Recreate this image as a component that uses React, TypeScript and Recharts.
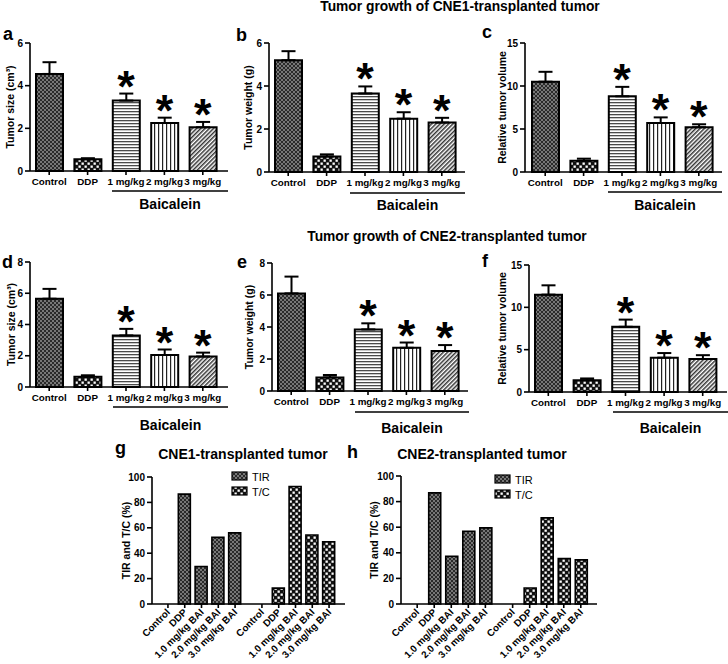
import React from 'react';
import { Bar, BarChart, Cell, ComposedChart, ErrorBar, Legend, Scatter, XAxis, YAxis } from 'recharts';

// groups for panels a-f
const groups = ['Control', 'DDP', '1 mg/kg', '2 mg/kg', '3 mg/kg'];
const starred = [false, false, true, true, true];

const sizeCne1 = [4.55, 0.55, 3.3, 2.25, 2.05];
const sizeCne1Err = [0.55, 0.05, 0.33, 0.25, 0.25];
const weightCne1 = [5.2, 0.72, 3.65, 2.48, 2.3];
const weightCne1Err = [0.42, 0.1, 0.33, 0.3, 0.22];
const volumeCne1 = [10.5, 1.3, 8.8, 5.7, 5.2];
const volumeCne1Err = [1.15, 0.25, 1.1, 0.65, 0.35];

const sizeCne2 = [5.65, 0.65, 3.3, 2.05, 1.95];
const sizeCne2Err = [0.63, 0.1, 0.42, 0.35, 0.25];
const weightCne2 = [6.1, 0.85, 3.85, 2.7, 2.5];
const weightCne2Err = [1.05, 0.15, 0.38, 0.33, 0.37];
const volumeCne2 = [11.5, 1.4, 7.7, 4.05, 3.9];
const volumeCne2Err = [1.1, 0.2, 0.85, 0.55, 0.45];

// panels g, h
const ratioLabels = ['Control', 'DDP', '1.0 mg/kg BAI', '2.0 mg/kg BAI', '3.0 mg/kg BAI'];
const tirCne1 = [0, 86.5, 29.5, 52.5, 56];
const tcCne1 = [0, 12.5, 92.5, 54.3, 49];
const tirCne2 = [0, 86.8, 37.3, 56.8, 59.5];
const tcCne2 = [0, 12.5, 67.3, 35.5, 34.5];
const seriesOrder = ['TIR', 'T/C'];

const ticks6 = [0, 2, 4, 6];
const ticks8 = [0, 2, 4, 6, 8];
const ticks15 = [0, 5, 10, 15];
const ticks100 = [0, 20, 40, 60, 80, 100];

const FONT = '"Liberation Sans", Arial, sans-serif';
const GROUP_FILLS = ['url(#pCtrl)', 'url(#pDots)', 'url(#pHoriz)', 'url(#pVert)', 'url(#pDiag)'];
const GROUP_GAP = 1.6;

const axisLine = { stroke: '#000', strokeWidth: 1.6 };
const tickText = { fill: '#000', fontSize: 10, fontWeight: 'bold' as const };

const Star = (p: any) => {
  if (!p.payload || !p.payload.star) return <g />;
  return (
    <text x={p.cx} y={p.cy + 8} textAnchor="middle" fontSize={45} fontWeight="bold" fill="#000" fontFamily={FONT}>
      *
    </text>
  );
};

type GroupProps = {
  left: number; top: number; width: number; height: number;
  values: number[]; errs: number[]; yTicks: number[]; yLabel: string;
  padLeft: number; padRight: number; labelOffset: number;
};

const GroupPanel = ({ left, top, width, height, values, errs, yTicks, yLabel, padLeft, padRight, labelOffset }: GroupProps) => {
  const data = groups.map((name, i) => ({
    name,
    value: values[i],
    err: [0, errs[i]],
    top: values[i] + errs[i],
    star: starred[i],
  }));
  return (
    <div style={{ position: 'absolute', left, top }}>
      <ComposedChart width={width} height={height} data={data} margin={{ top: 10, right: 2, left: 0, bottom: 0 }}>
        <XAxis
          dataKey="name"
          height={20}
          interval={0}
          padding={{ left: padLeft, right: padRight }}
          axisLine={axisLine}
          tickLine={axisLine}
          tickSize={4}
          tickMargin={3}
          tick={{ ...tickText, fontSize: 9.8 }}
        />
        <YAxis
          width={36}
          domain={[0, yTicks[yTicks.length - 1]]}
          ticks={yTicks}
          axisLine={axisLine}
          tickLine={axisLine}
          tickSize={5}
          tickMargin={2}
          tick={tickText}
          label={{
            value: yLabel,
            angle: -90,
            position: 'insideLeft',
            offset: labelOffset,
            style: { textAnchor: 'middle', fontWeight: 'bold', fontSize: 10.5, fill: '#000' },
          }}
        />
        <Bar dataKey="value" barSize={27} stroke="#000" strokeWidth={2} isAnimationActive={false}>
          {data.map((d, i) => (
            <Cell key={d.name} fill={GROUP_FILLS[i]} />
          ))}
          <ErrorBar dataKey="err" width={7} stroke="#000" strokeWidth={2} direction="y" />
        </Bar>
        <Scatter dataKey="top" shape={Star} isAnimationActive={false} />
      </ComposedChart>
    </div>
  );
};

const RatioLegend = (props: any) => {
  const payload = [...(props.payload || [])].sort(
    (a: any, b: any) => seriesOrder.indexOf(a.value) - seriesOrder.indexOf(b.value),
  );
  return (
    <svg width={50} height={32} style={{ display: 'block' }}>
      {payload.map((e: any, i: number) => (
        <g key={e.value}>
          <rect x={1} y={1 + i * 15} width={15} height={8} fill={e.color} stroke="#000" strokeWidth={1.2} />
          <text x={21} y={10 + i * 15} fontSize={11} fill="#000" fontFamily={FONT}>
            {e.value}
          </text>
        </g>
      ))}
    </svg>
  );
};

type RatioProps = {
  left: number; top: number; width: number; height: number;
  tir: number[]; tc: number[]; labelOffset: number; legendLeft: number; legendTop: number;
};

const RatioPanel = ({ left, top, width, height, tir, tc, labelOffset, legendLeft, legendTop }: RatioProps) => {
  const data = [
    ...ratioLabels.map((label, i) => ({ pos: i, label, tir: tir[i] })),
    ...ratioLabels.map((label, i) => ({ pos: ratioLabels.length - 1 + GROUP_GAP + i, label, tc: tc[i] })),
  ];
  const RatioTick = (p: any) => {
    const row = data.find((d) => d.pos === p.payload.value);
    return (
      <text
        x={p.x}
        y={p.y}
        dy={4}
        textAnchor="end"
        transform={`rotate(-45 ${p.x} ${p.y})`}
        fontSize={9.8}
        fontWeight="bold"
        fill="#000"
        fontFamily={FONT}
      >
        {row ? row.label : ''}
      </text>
    );
  };
  return (
    <div style={{ position: 'absolute', left, top }}>
      <BarChart width={width} height={height} data={data} margin={{ top: 10, right: 2, left: 0, bottom: 0 }}>
        <XAxis
          type="number"
          dataKey="pos"
          domain={[-0.95, 10.55]}
          ticks={data.map((d) => d.pos)}
          interval={0}
          height={60}
          axisLine={axisLine}
          tickLine={axisLine}
          tickSize={4}
          tickMargin={2}
          tick={RatioTick}
        />
        <YAxis
          width={40}
          domain={[0, 100]}
          ticks={ticks100}
          axisLine={axisLine}
          tickLine={axisLine}
          tickSize={5}
          tickMargin={2}
          tick={tickText}
          label={{
            value: 'TIR and T/C (%)',
            angle: -90,
            position: 'insideLeft',
            offset: labelOffset,
            style: { textAnchor: 'middle', fontWeight: 'bold', fontSize: 10.5, fill: '#000' },
          }}
        />
        <Legend
          layout="vertical"
          align="center"
          verticalAlign="middle"
          content={RatioLegend}
          wrapperStyle={{ left: legendLeft, top: legendTop, width: 'auto', height: 'auto' }}
        />
        <Bar dataKey="tir" name="TIR" stackId="r" barSize={12} fill="url(#pCtrl)" stroke="#000" strokeWidth={1.6} isAnimationActive={false} legendType="square" />
        <Bar dataKey="tc" name="T/C" stackId="r" barSize={12} fill="url(#pDots)" stroke="#000" strokeWidth={1.6} isAnimationActive={false} legendType="square" />
      </BarChart>
    </div>
  );
};

const Baicalein = ({ x1, x2, y, textY }: { x1: number; x2: number; y: number; textY: number }) => (
  <g>
    <line x1={x1} x2={x2} y1={y} y2={y} stroke="#000" strokeWidth={1.5} />
    <text x={(x1 + x2) / 2} y={textY} textAnchor="middle" fontSize={14} fontWeight="bold" fill="#000">
      Baicalein
    </text>
  </g>
);

const Letter = ({ x, y, t }: { x: number; y: number; t: string }) => (
  <text x={x} y={y} fontSize={18} fontWeight="bold" fill="#000">
    {t}
  </text>
);

const App = () => {
  return (
    <div style={{ position: 'absolute', left: 0, top: 0, width: 728, height: 664, background: '#fff', fontFamily: FONT, overflow: 'hidden' }}>
      <svg width={728} height={664} style={{ position: 'absolute', left: 0, top: 0 }} fontFamily={FONT}>
        <defs>
          <pattern id="pCtrl" width="4" height="4" patternUnits="userSpaceOnUse">
            <rect width="4" height="4" fill="#777" />
            <rect width="2" height="2" fill="#2a2a2a" />
            <rect x="2" y="2" width="2" height="2" fill="#2a2a2a" />
          </pattern>
          <pattern id="pDots" width="6" height="6" patternUnits="userSpaceOnUse">
            <rect width="6" height="6" fill="#111" />
            <rect x="0.5" y="0.5" width="2.3" height="2.3" fill="#fff" />
            <rect x="3.5" y="3.5" width="2.3" height="2.3" fill="#fff" />
          </pattern>
          <pattern id="pHoriz" width="4" height="3" patternUnits="userSpaceOnUse">
            <rect width="4" height="3" fill="#fff" />
            <rect width="4" height="1.3" fill="#4a4a4a" />
          </pattern>
          <pattern id="pVert" width="4" height="4" patternUnits="userSpaceOnUse">
            <rect width="4" height="4" fill="#fff" />
            <rect width="1.2" height="4" fill="#222" />
          </pattern>
          <pattern id="pDiag" width="3" height="3" patternUnits="userSpaceOnUse" patternTransform="rotate(45)">
            <rect width="3" height="3" fill="#fff" />
            <rect width="1.5" height="3" fill="#333" />
          </pattern>
        </defs>

        <text x={460} y={11} textAnchor="middle" fontSize={13.8} fontWeight="bold" fill="#000">
          Tumor growth of CNE1-transplanted tumor
        </text>
        <text x={447} y={241} textAnchor="middle" fontSize={13.8} fontWeight="bold" fill="#000">
          Tumor growth of CNE2-transplanted tumor
        </text>
        <text x={243} y={459} textAnchor="middle" fontSize={14} fontWeight="bold" fill="#000">
          CNE1-transplanted tumor
        </text>
        <text x={482} y={459} textAnchor="middle" fontSize={14} fontWeight="bold" fill="#000">
          CNE2-transplanted tumor
        </text>

        <Letter x={3} y={40} t="a" />
        <Letter x={236} y={41} t="b" />
        <Letter x={482} y={38} t="c" />
        <Letter x={2} y={268} t="d" />
        <Letter x={237} y={268} t="e" />
        <Letter x={482} y={267} t="f" />
        <Letter x={115} y={454} t="g" />
        <Letter x={347} y={458} t="h" />

        <Baicalein x1={112} x2={228} y={191} textY={209} />
        <Baicalein x1={350} x2={465} y={193} textY={210} />
        <Baicalein x1={608} x2={722} y={192} textY={210} />
        <Baicalein x1={113} x2={228} y={407} textY={430} />
        <Baicalein x1={355} x2={469} y={412} textY={433} />
        <Baicalein x1={613} x2={728} y={412} textY={433} />
      </svg>

      <GroupPanel left={-6} top={33} width={236} height={158} values={sizeCne1} errs={sizeCne1Err} yTicks={ticks6} yLabel="Tumor size (cm³)" padLeft={0} padRight={6} labelOffset={16} />
      <GroupPanel left={233} top={33} width={234} height={159} values={weightCne1} errs={weightCne1Err} yTicks={ticks6} yLabel="Tumor weight (g)" padLeft={0} padRight={4} labelOffset={15.5} />
      <GroupPanel left={489} top={33} width={235} height={159} values={volumeCne1} errs={volumeCne1Err} yTicks={ticks15} yLabel="Relative tumor volume" padLeft={1} padRight={4} labelOffset={13.5} />

      <GroupPanel left={-6} top={252} width={236} height={155} values={sizeCne2} errs={sizeCne2Err} yTicks={ticks8} yLabel="Tumor size (cm³)" padLeft={0} padRight={6} labelOffset={17} />
      <GroupPanel left={236} top={253} width={234} height={158} values={weightCne2} errs={weightCne2Err} yTicks={ticks8} yLabel="Tumor weight (g)" padLeft={0} padRight={4} labelOffset={13} />
      <GroupPanel left={493} top={255} width={236} height={157} values={volumeCne2} errs={volumeCne2Err} yTicks={ticks15} yLabel="Relative tumor volume" padLeft={0} padRight={5} labelOffset={9.5} />

      <RatioPanel left={112} top={467} width={235} height={197} tir={tirCne1} tc={tcCne1} labelOffset={14} legendLeft={119} legendTop={4} />
      <RatioPanel left={361} top={466} width={238} height={198} tir={tirCne2} tc={tcCne2} labelOffset={13} legendLeft={133} legendTop={8} />
    </div>
  );
};

export default App;
